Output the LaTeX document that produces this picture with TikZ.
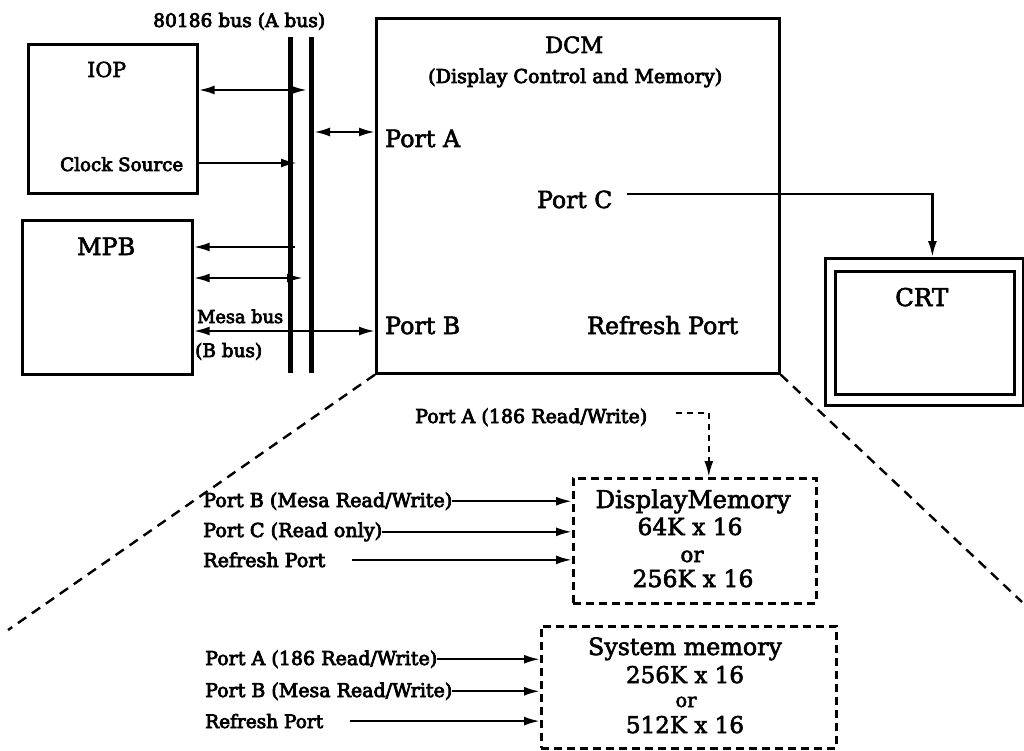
\documentclass[tikz,border=0pt]{standalone}
\usepackage{fontspec}
\setmainfont{DejaVu Serif}
\newfontfamily\smbfont[FakeBold=4]{DejaVu Serif}
\newfontfamily\lrgfont[FakeBold=2.5]{DejaVu Serif}
\usetikzlibrary{arrows.meta,calc}
\newcommand{\BigT}[2]{\resizebox{#1pt}{!}{\lrgfont #2}}
\newcommand{\SmT}[2]{\resizebox{#1pt}{!}{\smbfont #2}}
\begin{document}
\begin{tikzpicture}[x=1pt,y=-1pt,
 box/.style={draw, line width=2.6pt, inner sep=0pt, anchor=north west},
 txt/.style={inner sep=0pt, anchor=base west},
 ctxt/.style={inner sep=0pt, anchor=base},
 arr/.style={line width=2.4pt, -{Latex[length=16pt,width=9pt]}},
 dbl/.style={line width=2.4pt, {Latex[length=16pt,width=9pt]}-{Latex[length=16pt,width=9pt]}},
 bus/.style={line width=5pt},
 diag/.style={line width=2.4pt, dash pattern=on 10pt off 7pt},
 dbox/.style={draw, line width=2.6pt, dash pattern=on 8pt off 5pt, inner sep=0pt, anchor=north west},
 darr/.style={line width=2.4pt, dash pattern=on 6pt off 5pt, -{Latex[length=16pt,width=9pt]}}
]
\fill[white] (0,0) rectangle (1024,751);
\useasboundingbox (0,0) rectangle (1024,751);

% boxes
\node[box, minimum width=169pt, minimum height=149pt] (iop) at (27,43) {};
\node[box, minimum width=170pt, minimum height=154pt] (mpb) at (21,219) {};
\node[box, minimum width=403pt, minimum height=355pt] (dcm) at (375,17) {};
\node[box, line width=2.8pt, minimum width=198pt, minimum height=147pt] (crto) at (824,257) {};
\node[box, line width=2.8pt, minimum width=179pt, minimum height=123pt] (crti) at (834,270) {};
\node[dbox, minimum width=243pt, minimum height=125pt] (dm) at (572,477) {};
\node[dbox, minimum width=295pt, minimum height=122pt] (sm) at (540,625) {};

% bus lines
\coordinate (b1t) at (290,37); \coordinate (b1b) at (290,373);
\coordinate (b2t) at (311,37); \coordinate (b2b) at (311,373);
\draw[bus] (b1t) -- (b1b);
\draw[bus] (b2t) -- (b2b);

% texts top
\node[txt] (busl) at (153,27) {\SmT{172}{80186 bus (A bus)}};
\node[txt] (iopl) at (87,77) {\BigT{39}{IOP}};
\node[txt] (clk) at (60,171) {\SmT{123}{Clock Source}};
\node[txt] (mpbl) at (77,255) {\BigT{58}{MPB}};
\node[txt] (mesa) at (197,323) {\SmT{86}{Mesa bus}};
\node[txt] (bbus) at (195,357) {\SmT{67}{(B bus)}};
\node[txt] (dcml) at (545,53) {\BigT{58}{DCM}};
\node[txt] (dcms) at (428,83) {\SmT{294}{(Display Control and Memory)}};
\node[txt] (pA) at (385,147) {\BigT{75}{Port A}};
\node[txt] (pC) at (537,208) {\BigT{75}{Port C}};
\node[txt] (pB) at (385,334) {\BigT{75}{Port B}};
\node[txt] (rP) at (587,334) {\BigT{151}{Refresh Port}};
\node[txt] (crtl) at (895,306) {\BigT{53}{CRT}};

% connector ends
\coordinate (a1) at (307,90);
\coordinate (ck) at (297,163);
\coordinate (pa1) at (314,132);
\coordinate (m1) at (295,247);
\coordinate (m2) at (303,278);
\coordinate (mb) at (300,331);
\coordinate (pcs) at (627,194);
\coordinate (pad) at (676,413);
\coordinate (dl) at (8,630);
\coordinate (dr) at (1022,602);

\draw[dbl] (iop.east |- a1) -- (a1);
\draw[arr] (iop.east |- ck) -- (ck);
\draw[dbl] (pa1) -- (dcm.west |- pa1);
\draw[arr] (m1) -- (mpb.east |- m1);
\draw[dbl] (mpb.east |- m2) -- (m2);
\draw[dbl] (mpb.east |- mb) -- (dcm.west |- mb);
\draw[arr] (pcs) -| ([xshift=8pt]crto.north);

% dashed zoom lines
\draw[diag] (dcm.south west) -- (dl);
\draw[diag] (dcm.south east) -- (dr);

% display memory
\node[txt] (dpA) at (415,423) {\SmT{232}{Port A (186 Read/Write)}};
\draw[darr] (pad) -| ([xshift=14pt]dm.north);
\node[txt] (dpB) at (203,507) {\SmT{249}{Port B (Mesa Read/Write)}};
\node[txt] (dpC) at (203,537) {\SmT{179}{Port C (Read only)}};
\node[txt] (dpR) at (203,567) {\SmT{122}{Refresh Port}};
\draw[arr] (dpB.east) -- (dpB.east -| dm.west);
\draw[arr] (dpC.east) -- (dpC.east -| dm.west);
\draw[arr] ([xshift=27pt]dpR.east) -- (dpR.east -| dm.west);
\node[ctxt] (dm1) at (693,508) {\BigT{195}{DisplayMemory}};
\node[ctxt] (dm2) at (690,535) {\BigT{105}{64K x 16}};
\node[ctxt] (dm3) at (692,562) {\BigT{23}{or}};
\node[ctxt] (dm4) at (693,587) {\BigT{121}{256K x 16}};

% system memory
\node[txt] (spA) at (205,665) {\SmT{232}{Port A (186 Read/Write)}};
\node[txt] (spB) at (205,697) {\SmT{247}{Port B (Mesa Read/Write)}};
\node[txt] (spR) at (205,728) {\SmT{118}{Refresh Port}};
\draw[arr] (spA.east) -- (spA.east -| sm.west);
\draw[arr] (spB.east) -- (spB.east -| sm.west);
\draw[arr] ([xshift=27pt]spR.east) -- (spR.east -| sm.west);
\node[ctxt] (sm1) at (685,655) {\BigT{194}{System memory}};
\node[ctxt] (sm2) at (685,683) {\BigT{118}{256K x 16}};
\node[ctxt] (sm3) at (686,707) {\BigT{21}{or}};
\node[ctxt] (sm4) at (685,733) {\BigT{118}{512K x 16}};
\end{tikzpicture}
\end{document}
